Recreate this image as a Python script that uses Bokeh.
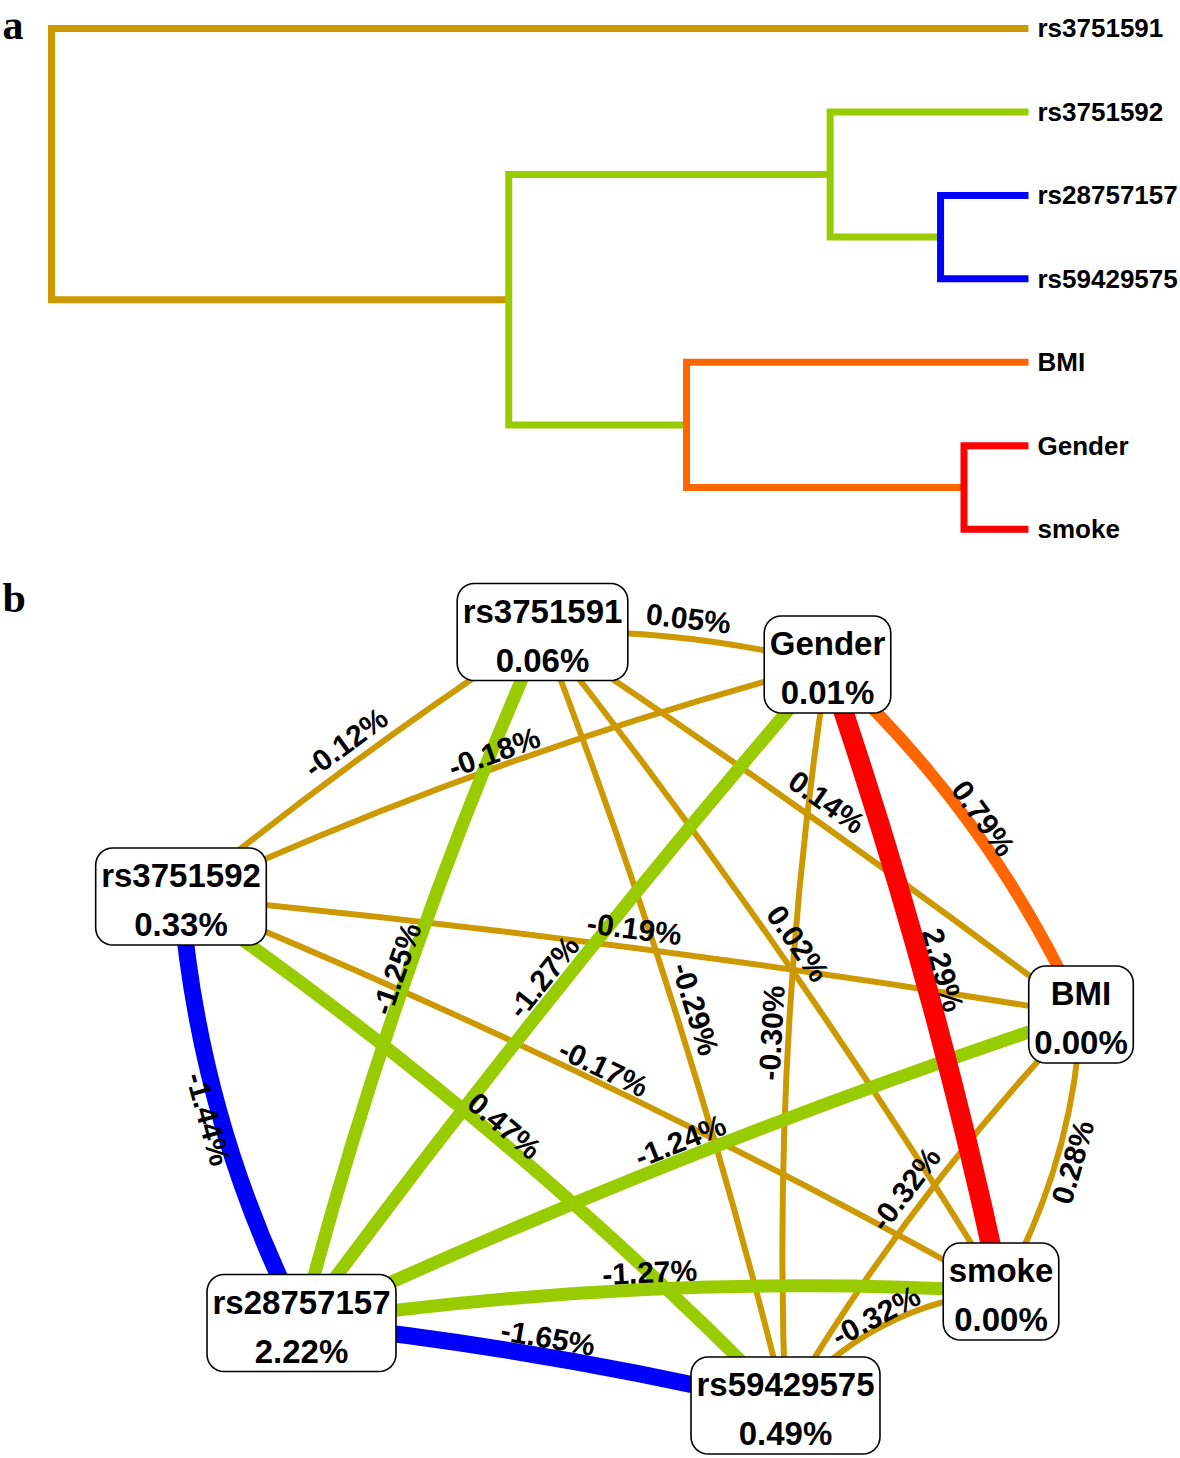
import math
from bokeh.plotting import figure
from bokeh.models import Range1d, ColumnDataSource, Label
from bokeh.layouts import column
from bokeh.core.properties import value
from bokeh.embed import file_html
from bokeh.resources import INLINE

# ---------------- panel a : interaction dendrogram ----------------
leaf_labels = ["rs3751591", "rs3751592", "rs28757157", "rs59429575", "BMI", "Gender", "smoke"]
# merges (leaves are 0..6, merged clusters get 7, 8, ... in order)
merge_left = [2, 5, 1, 4, 9, 0]
merge_right = [3, 6, 7, 8, 10, 11]
merge_height = [0.090, 0.066, 0.203, 0.350, 0.532, 1.000]
merge_group = ["strong redundancy", "strong synergy", "moderate redundancy",
               "moderate synergy", "moderate redundancy", "independence"]

# ---------------- panel b : interaction graph ----------------
nodes = ["rs3751591", "Gender", "rs3751592", "BMI", "smoke", "rs28757157", "rs59429575"]
node_entropy = [0.06, 0.01, 0.33, 0.00, 0.00, 2.22, 0.49]
node_x = [542, 827, 180.5, 1080.5, 1000.5, 301, 785]
node_y = [631.5, 664, 896, 1014, 1291, 1322.5, 1405]

edge_from = ["rs3751591", "rs3751591", "rs3751592", "rs3751591", "Gender", "rs3751592", "rs3751591",
             "Gender", "Gender", "rs3751591", "rs3751591", "Gender", "rs3751592", "rs3751592",
             "rs3751592", "rs28757157", "rs28757157", "rs28757157", "BMI", "BMI", "smoke"]
edge_to = ["Gender", "rs3751592", "Gender", "rs28757157", "rs28757157", "BMI", "BMI",
           "smoke", "BMI", "smoke", "rs59429575", "rs59429575", "smoke", "rs59429575",
           "rs28757157", "BMI", "smoke", "rs59429575", "smoke", "rs59429575", "rs59429575"]
edge_gain = [0.05, -0.12, -0.18, -1.25, -1.27, -0.19, 0.14,
             2.29, 0.79, 0.02, -0.29, -0.30, -0.17, 0.47,
             -1.44, -1.24, -1.27, -1.65, 0.28, -0.32, -0.32]
edge_group = ["independence", "independence", "independence", "moderate redundancy",
              "moderate redundancy", "independence", "independence", "strong synergy",
              "moderate synergy", "independence", "independence", "independence",
              "independence", "moderate redundancy", "strong redundancy", "moderate redundancy",
              "moderate redundancy", "strong redundancy", "independence", "independence",
              "independence"]

# ---------------- styles ----------------
GROUP_COLOR = {"strong synergy": "#FF0000", "moderate synergy": "#FF6600",
               "independence": "#CC9900", "moderate redundancy": "#99CC00",
               "strong redundancy": "#0000FF"}
GROUP_WIDTH = {"strong synergy": 20, "moderate synergy": 12, "independence": 6,
               "moderate redundancy": 13, "strong redundancy": 17}
edge_bend = [10, -6, 15, -15, -8, 8, 5, 10, 22, 12, 13, -18, 14, 19, -22, 12, 18, 8, 17, -14, -25]
label_shift = [20, 21, 15, 12, 19, 19, 21, 20, 14, 20, 20, 17, 15, 14, -12, 18, 17, 19, -16, 21, 12]

FONT = value("Liberation Sans")
SERIF = "Liberation Serif"

# Arial/Liberation Sans Bold advance widths (per 1000 em)
BOLD_W = {"r": 389, "s": 556, ".": 278, "%": 889, "-": 333, "G": 778, "e": 556, "n": 611,
          "d": 611, "B": 722, "M": 833, "I": 278, "m": 889, "o": 611, "k": 556}


def text_width(s, size):
    return sum(BOLD_W.get(ch, 556) for ch in s) * size / 1000.0


def rounded_rect(cx, cy, hw, hh, r, n=8):
    corners = [(cx + hw - r, cy - hh + r, -90, 0), (cx + hw - r, cy + hh - r, 0, 90),
               (cx - hw + r, cy + hh - r, 90, 180), (cx - hw + r, cy - hh + r, 180, 270)]
    px, py = [], []
    for ccx, ccy, a0, a1 in corners:
        for k in range(n + 1):
            a = math.radians(a0 + (a1 - a0) * k / n)
            px.append(ccx + r * math.cos(a))
            py.append(ccy + r * math.sin(a))
    return px, py


# ================= figure a =================
pa = figure(width=1180, height=564, x_range=Range1d(1.0522, -0.1556),
            y_range=Range1d(6.423, -0.3355), x_axis_type=None, y_axis_type=None,
            output_backend="svg", toolbar_location=None, min_border=0,
            outline_line_color=None)
pa.grid.visible = False

ypos = [float(i) for i in range(len(leaf_labels))]
hpos = [0.0] * len(leaf_labels)
seg_xs, seg_ys, seg_col = [], [], []
for a, b, h, g in zip(merge_left, merge_right, merge_height, merge_group):
    seg_xs.append([hpos[a], h, h, hpos[b]])
    seg_ys.append([ypos[a], ypos[a], ypos[b], ypos[b]])
    seg_col.append(GROUP_COLOR[g])
    hpos.append(h)
    ypos.append((ypos[a] + ypos[b]) / 2.0)

dsrc = ColumnDataSource(dict(xs=seg_xs[::-1], ys=seg_ys[::-1], color=seg_col[::-1]))
pa.multi_line("xs", "ys", line_color="color", line_width=7, line_join="miter",
              line_cap="butt", source=dsrc)

pa.text(x=[0.0] * len(leaf_labels), y=list(range(len(leaf_labels))), text=leaf_labels,
        x_offset=9, text_align="left", text_baseline="middle", text_font=FONT,
        text_font_style="bold", text_font_size="26px", text_color="black")

pa.add_layout(Label(x=1.0502, y=-0.036, text="a", text_font=SERIF, text_font_style="bold",
                    text_font_size="42px", text_align="left", text_baseline="alphabetic",
                    text_color="black"))

# ================= figure b =================
pb = figure(width=1180, height=894, x_range=Range1d(0, 1180), y_range=Range1d(1458, 564),
            x_axis_type=None, y_axis_type=None, output_backend="svg",
            toolbar_location=None, min_border=0, outline_line_color=None)
pb.grid.visible = False

pos = {n: (x, y) for n, x, y in zip(nodes, node_x, node_y)}
E = dict(x0=[], y0=[], x1=[], y1=[], cx=[], cy=[], color=[], width=[])
L = dict(x=[], y=[], text=[], angle=[])
order = sorted(range(len(edge_gain)), key=lambda i: GROUP_WIDTH[edge_group[i]])
for i in order:
    x0, y0 = pos[edge_from[i]]
    x1, y1 = pos[edge_to[i]]
    dx, dy = x1 - x0, y1 - y0
    ln = math.hypot(dx, dy)
    nx, ny = dy / ln, -dx / ln          # left-hand normal (screen orientation)
    mx, my = (x0 + x1) / 2.0, (y0 + y1) / 2.0
    bend = edge_bend[i]
    E["x0"].append(x0); E["y0"].append(y0); E["x1"].append(x1); E["y1"].append(y1)
    E["cx"].append(mx + 2 * bend * nx); E["cy"].append(my + 2 * bend * ny)
    E["color"].append(GROUP_COLOR[edge_group[i]])
    E["width"].append(GROUP_WIDTH[edge_group[i]])
    # label at the curve's midpoint, rotated along it
    th = math.atan2(dy, dx)
    if th > math.pi / 2:
        th -= math.pi
    elif th <= -math.pi / 2:
        th += math.pi
    ux, uy = math.sin(th), -math.cos(th)  # text "up" direction
    lx = mx + bend * nx + label_shift[i] * ux
    ly = my + bend * ny + label_shift[i] * uy
    L["x"].append(lx); L["y"].append(ly)
    L["text"].append(f"{edge_gain[i]:.2f}%")
    L["angle"].append(-th)

pb.quadratic(x0="x0", y0="y0", x1="x1", y1="y1", cx="cx", cy="cy",
             line_color="color", line_width="width", line_cap="butt",
             source=ColumnDataSource(E))

pb.text(x="x", y="y", text="text", angle="angle", source=ColumnDataSource(L),
        text_align="center", text_baseline="middle", text_font=FONT,
        text_font_style="bold", text_font_size="30px", text_color="black")

# node boxes
NODE_SIZE = 33
bxs, bys, name_y, val_y, val_txt = [], [], [], [], []
for n, v, x, y in zip(nodes, node_entropy, node_x, node_y):
    vt = f"{v:.2f}%"
    hw = max(text_width(n, NODE_SIZE), text_width(vt, NODE_SIZE)) / 2.0 + 5.5
    px, py = rounded_rect(x, y, hw, 48.5, 17)
    bxs.append(px); bys.append(py)
    name_y.append(y - 21)
    val_y.append(y + 28)
    val_txt.append(vt)

pb.patches(bxs, bys, fill_color="white", line_color="black", line_width=1.6)
pb.text(x=node_x, y=name_y, text=nodes, text_align="center", text_baseline="middle",
        text_font=FONT, text_font_style="bold", text_font_size=f"{NODE_SIZE}px",
        text_color="black")
pb.text(x=node_x, y=val_y, text=val_txt, text_align="center", text_baseline="middle",
        text_font=FONT, text_font_style="bold", text_font_size=f"{NODE_SIZE}px",
        text_color="black")

pb.add_layout(Label(x=2, y=597, text="b", text_font=SERIF, text_font_style="bold",
                    text_font_size="42px", text_align="left", text_baseline="alphabetic",
                    text_color="black"))

layout = column(pa, pb, spacing=0)
open("out.html", "w").write(file_html(layout, INLINE))
